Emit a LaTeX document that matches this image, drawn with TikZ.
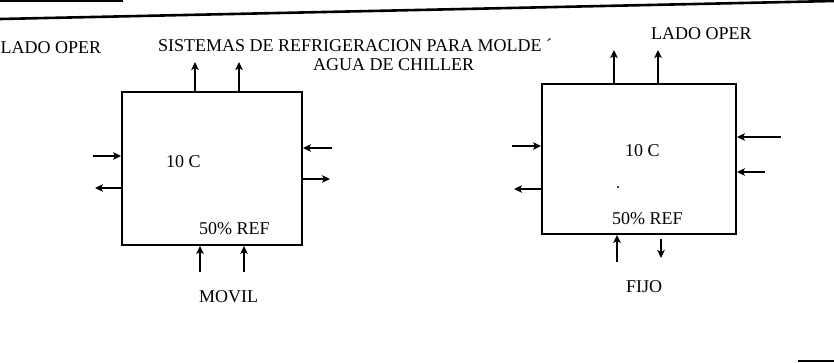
\documentclass[tikz,border=0pt]{standalone}
\usepackage{fontspec}
\setmainfont{Liberation Serif}
\usetikzlibrary{arrows.meta}
\tikzset{
  box/.style={draw, line width=1.9pt, rectangle, inner sep=0pt},
  arr/.style={line width=1.8pt, -{Stealth[length=8pt,width=7.5pt,inset=2pt]}},
  lbl/.style={inner sep=0pt, font=\fontsize{18}{20}\selectfont},
  rule/.style={line cap=butt}
}
\begin{document}
\begin{tikzpicture}[x=1pt,y=-1pt]
\clip (0,0) rectangle (834,362);
\fill[white] (0,0) rectangle (834,362);
% page rules
\draw[rule, line width=2.6pt] (0,19) -- (834,1);
\draw[rule, line width=1.8pt] (0,1) -- (123,1);
\draw[rule, line width=2.2pt] (798,361) -- (834,361);
% boxes
\node[box, minimum width=180pt, minimum height=153pt] (L) at (212,168.5) {};
\node[box, minimum width=194pt, minimum height=150pt] (R) at (639,159) {};
% texts
\node[lbl, anchor=base west] (lop1) at (0.5,53) {LADO OPER};
\node[lbl, anchor=base west] (title) at (158,51) {SISTEMAS DE REFRIGERACION PARA MOLDE ´};
\node[lbl, anchor=base west] (agua) at (313,70) {AGUA DE CHILLER};
\node[lbl, anchor=base west] (lop2) at (651,39) {LADO OPER};
\node[lbl, anchor=base west] (t1) at (166,167) {10 C};
\node[lbl, anchor=base west] (p1) at (199,234) {50\% REF};
\node[lbl, anchor=base west] (movil) at (199,302) {MOVIL};
\node[lbl, anchor=base west] (t2) at (625,156) {10 C};
\node[lbl, anchor=base west] (p2) at (612,224) {50\% REF};
\node[lbl, anchor=base west] (fijo) at (626,292) {FIJO};
\fill (618,187) circle (1.2pt);
% free ends, left box
\coordinate (lt1) at (195,62);
\coordinate (lt2) at (239,62);
\coordinate (ll1) at (93,156);
\coordinate (ll2) at (95,188);
\coordinate (lr1) at (332,148);
\coordinate (lr2) at (330,179);
\coordinate (lb1) at (200,272);
\coordinate (lb2) at (244,272);
% free ends, right box
\coordinate (rt1) at (614,50);
\coordinate (rt2) at (658,50);
\coordinate (rl1) at (512,146);
\coordinate (rl2) at (514,189);
\coordinate (rr1) at (781,137);
\coordinate (rr2) at (765,172);
\coordinate (rb1) at (617,262);
\coordinate (rb2) at (661,258);
% left box arrows
\draw[arr] (lt1 |- L.north) -- (lt1);
\draw[arr] (lt2 |- L.north) -- (lt2);
\draw[arr] (ll1) -- (ll1 -| L.west);
\draw[arr] (ll2 -| L.west) -- (ll2);
\draw[arr] (lr1) -- (lr1 -| L.east);
\draw[arr] (lr2 -| L.east) -- (lr2);
\draw[arr] (lb1) -- (lb1 |- L.south);
\draw[arr] (lb2) -- (lb2 |- L.south);
% right box arrows
\draw[arr] (rt1 |- R.north) -- (rt1);
\draw[arr] (rt2 |- R.north) -- (rt2);
\draw[arr] (rl1) -- (rl1 -| R.west);
\draw[arr] (rl2 -| R.west) -- (rl2);
\draw[arr] (rr1) -- (rr1 -| R.east);
\draw[arr] (rr2) -- (rr2 -| R.east);
\draw[arr] (rb1) -- (rb1 |- R.south);
\draw[arr] ([yshift=-4pt]rb2 |- R.south) -- (rb2);
\end{tikzpicture}
\end{document}
